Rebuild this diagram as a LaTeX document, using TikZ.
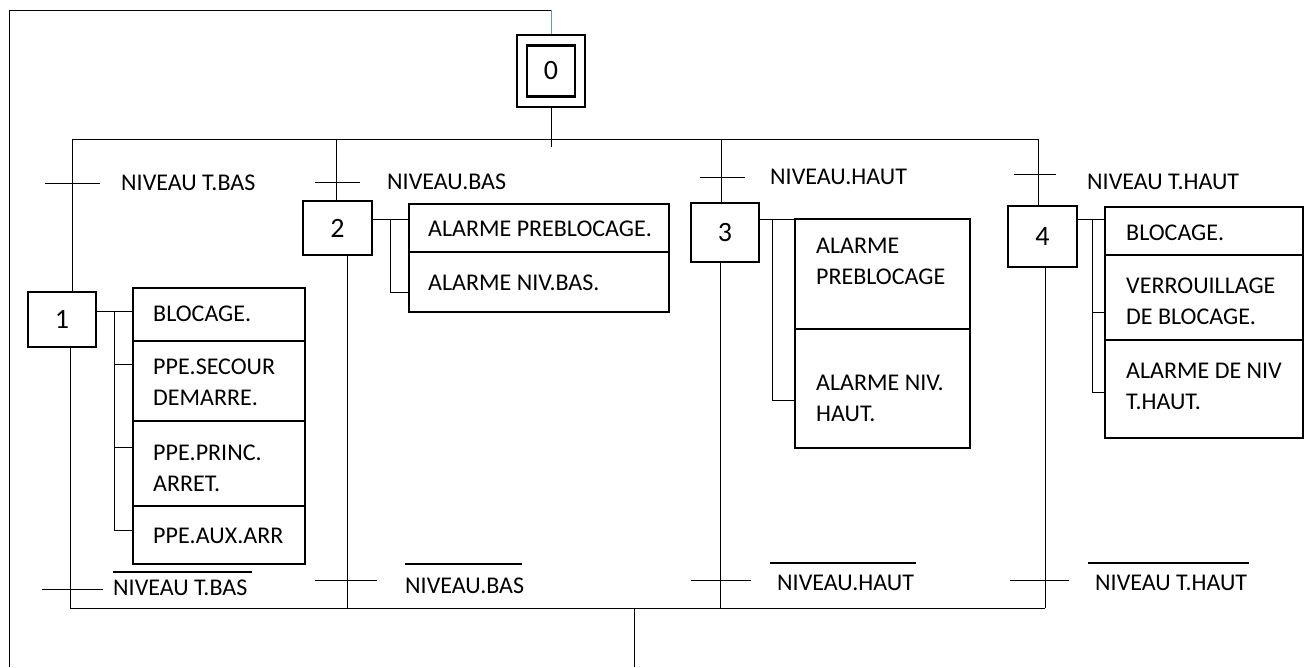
\documentclass[tikz,border=0pt]{standalone}
\usepackage{fontspec}
\setmainfont{Carlito}
\newcommand\grafsize{\fontsize{24}{31}\selectfont}
\newcommand\stepsize{\fontsize{28}{32}\selectfont}
\definecolor{linkblue}{HTML}{5B9BD5}
\tikzset{
  thinln/.style={line width=1pt, black},
  stepbox/.style={draw, line width=2.4pt, inner sep=0pt, font=\stepsize},
  actbox/.style={draw, line width=2.2pt, inner sep=0pt, anchor=north west},
  divln/.style={line width=1.2pt},
  txt/.style={anchor=west, inner sep=0pt, align=left, font=\grafsize},
  tick/.style={line width=1pt},
}
\begin{document}
\begin{tikzpicture}[x=1pt,y=-1pt]
\useasboundingbox (0,0) rectangle (1308,667);

% ---------- step 0 ----------
\node[stepbox, minimum width=68pt, minimum height=72pt] (s0) at (551,71) {};
\node[stepbox, minimum width=48pt, minimum height=51pt] (s0in) at (551,71) {0};
\coordinate (looptop) at (551,10);
\coordinate (loopcorner) at (9,10);
\coordinate (loopbottom) at (9,667);
\draw[line width=1pt, linkblue] (looptop) -- (s0.north);
\draw[thinln] (looptop) -- (loopcorner) -- (loopbottom);

% ---------- divergence ----------
\coordinate (dl) at (72,139);
\coordinate (dr) at (1038,139);
\coordinate (s0end) at (551,147);
\draw[thinln] (dl) -- (dr);
\draw[thinln] (s0.south) -- (s0end);

% ---------- steps ----------
\node[stepbox, minimum width=68pt, minimum height=55pt] (s1) at (62,319.5) {1};
\node[stepbox, minimum width=69pt, minimum height=54pt] (s2) at (337.5,228) {2};
\node[stepbox, minimum width=68pt, minimum height=59pt] (s3) at (725,232.5) {3};
\node[stepbox, minimum width=69pt, minimum height=61pt] (s4) at (1042.5,236.5) {4};

% branch tops
\coordinate (b1t) at (72,139);
\coordinate (b2t) at (336,139);
\coordinate (b3t) at (721,139);
\coordinate (b4t) at (1038,139);
\draw[thinln] (b1t) -- (b1t |- s1.north);
\draw[thinln] (b2t) -- (b2t |- s2.north);
\draw[thinln] (b3t) -- (b3t |- s3.north);
\draw[thinln] (b4t) -- (b4t |- s4.north);

% convergence
\coordinate (b1b) at (70,608);
\coordinate (b2b) at (347,608);
\coordinate (b3b) at (720,608);
\coordinate (b4b) at (1045,608);
\coordinate (cjoin) at (634,608);
\coordinate (cend) at (634,667);
\draw[thinln] (b1b |- s1.south) -- (b1b);
\draw[thinln] (b2b |- s2.south) -- (b2b);
\draw[thinln] (b3b |- s3.south) -- (b3b);
\draw[thinln] (b4b |- s4.south) -- (b4b);
\draw[thinln] (b1b) -- (b4b);
\draw[thinln] (cjoin) -- (cend);

% ---------- upper transitions ----------
\draw[tick] (45,183) -- (100,183);
\node[txt] (r1) at (121,183) {NIVEAU T.BAS};
\draw[tick] (315,182) -- (360,182);
\node[txt] (r2) at (387,182) {NIVEAU.BAS};
\draw[tick] (700,177) -- (745,177);
\node[txt] (r3) at (770,177) {NIVEAU.HAUT};
\draw[tick] (1014,174) -- (1056,174);
\node[txt] (r4) at (1087,182) {NIVEAU T.HAUT};

% ---------- lower transitions ----------
\draw[tick] (42,589) -- (103,589);
\node[txt] (q1) at (113,588) {NIVEAU T.BAS};
\draw[divln] (113,572) -- (252,572);
\draw[tick] (315,580) -- (377,580);
\node[txt] (q2) at (405,586) {NIVEAU.BAS};
\draw[divln] (405,564) -- (522,564);
\draw[tick] (691,580) -- (751,580);
\node[txt] (q3) at (777,583) {NIVEAU.HAUT};
\draw[divln] (770,563) -- (916,563);
\draw[tick] (1010,580) -- (1069,580);
\node[txt] (q4) at (1095,583) {NIVEAU T.HAUT};
\draw[divln] (1088,563) -- (1249,563);

% ---------- action box 1 ----------
\node[actbox, minimum width=172pt, minimum height=276pt] (a1) at (132,287) {};
\draw[divln] (132,341) -- (304,341);
\draw[divln] (132,421) -- (304,421);
\draw[divln] (132,506) -- (304,506);
\node[txt] (a1r1) at (153,314) {BLOCAGE.};
\node[txt] (a1r2) at (153,382) {PPE.SECOUR\\DEMARRE.};
\node[txt] (a1r3) at (153,468) {PPE.PRINC.\\ARRET.};
\node[txt] (a1r4) at (153,536) {PPE.AUX.ARR};
\coordinate (k1) at (114,311);
\draw[thinln] (s1.east |- k1) -- (a1.west |- k1);
\draw[thinln] (k1) -- (114,530) -- (a1.west |- 0,530);
\draw[thinln] (114,364) -- (a1.west |- 0,364);
\draw[thinln] (114,447) -- (a1.west |- 0,447);

% ---------- action box 2 ----------
\node[actbox, minimum width=260pt, minimum height=108pt] (a2) at (408,203) {};
\draw[divln] (408,252) -- (668,252);
\node[txt] (a2r1) at (428,229) {ALARME PREBLOCAGE.};
\node[txt] (a2r2) at (428,283) {ALARME NIV.BAS.};
\coordinate (k2) at (390,219);
\draw[thinln] (s2.east |- k2) -- (a2.west |- k2);
\draw[thinln] (k2) -- (390,292) -- (a2.west |- 0,292);

% ---------- action box 3 ----------
\node[actbox, minimum width=175pt, minimum height=229pt] (a3) at (794,218) {};
\draw[divln] (794,329) -- (969,329);
\node[txt] (a3r1) at (816,261) {ALARME\\PREBLOCAGE};
\node[txt] (a3r2) at (816,398) {ALARME NIV.\\HAUT.};
\coordinate (k3) at (772,219);
\draw[thinln] (s3.east |- k3) -- (a3.west |- k3);
\draw[thinln] (k3) -- (772,400) -- (a3.west |- 0,400);

% ---------- action box 4 ----------
\node[actbox, minimum width=198pt, minimum height=231pt] (a4) at (1104,206) {};
\draw[divln] (1104,255) -- (1302,255);
\draw[divln] (1104,340) -- (1302,340);
\node[txt] (a4r1) at (1126,233) {BLOCAGE.};
\node[txt] (a4r2) at (1126,301) {VERROUILLAGE\\DE BLOCAGE.};
\node[txt] (a4r3) at (1126,386) {ALARME DE NIV\\T.HAUT.};
\coordinate (k4) at (1092,219);
\draw[thinln] (s4.east |- k4) -- (a4.west |- k4);
\draw[thinln] (k4) -- (1092,392) -- (a4.west |- 0,392);
\draw[thinln] (1092,312) -- (a4.west |- 0,312);
\end{tikzpicture}
\end{document}
